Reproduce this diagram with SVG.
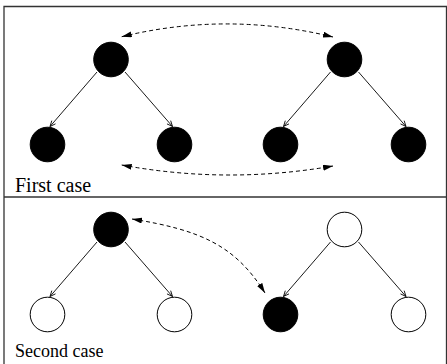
<svg xmlns="http://www.w3.org/2000/svg" width="447" height="364" viewBox="0 0 447 364">
<style>
.frame{fill:none;stroke:#333;stroke-width:1.3}
.blk{fill:#000;stroke:#000;stroke-width:1}
.wht{fill:#fff;stroke:#000;stroke-width:1}
.edge{fill:none;stroke:#000;stroke-width:0.9;marker-end:url(#open)}
.dash{fill:none;stroke:#000;stroke-width:1;stroke-dasharray:4 3}
.lbl{fill:#000;font-family:"Liberation Serif","Times New Roman",Times,"DejaVu Serif",serif}
</style>
<defs>
<marker id="open" viewBox="0 0 10 10" refX="9" refY="5" markerWidth="7" markerHeight="7" markerUnits="userSpaceOnUse" orient="auto">
<path d="M1,1.5 L9,5 L1,8.5" fill="none" stroke="#000" stroke-width="1.2"/>
</marker>
<marker id="fill" viewBox="0 0 10 6" refX="10" refY="3" markerWidth="10" markerHeight="6" markerUnits="userSpaceOnUse" orient="auto-start-reverse">
<path d="M0,0 L10,3 L0,6 Z" fill="#000"/>
</marker>
</defs>
<g id="frame">
<path class="frame" d="M4,370 L4,6.5 L446.5,6.5 L446.5,370"/>
<line class="frame" x1="4" y1="197" x2="446.5" y2="197"/>
</g>
<g id="connectors">
<path class="edge" d="M97,72 L50,126.5"/>
<path class="edge" d="M125,72 L172.5,126.5"/>
<path class="edge" d="M330.5,72 L283.5,126.5"/>
<path class="edge" d="M358.5,72 L406,126.5"/>
<path class="edge" d="M97,242 L50,296.5"/>
<path class="edge" d="M125,242 L172.5,296.5"/>
<path class="edge" d="M330.5,242 L283.5,296.5"/>
<path class="edge" d="M358.5,242 L406,296.5"/>
<path class="dash" marker-start="url(#fill)" marker-end="url(#fill)" d="M121.7,36.7 Q227,11 333,37"/>
<path class="dash" marker-start="url(#fill)" marker-end="url(#fill)" d="M121.7,165 Q227,184.5 333,166"/>
<path class="dash" marker-start="url(#fill)" marker-end="url(#fill)" d="M132,219 C200,230 235,245 265,293"/>
</g>
<g id="n1"><circle class="blk" cx="111" cy="59.5" r="17.3"/></g>
<g id="n2"><circle class="blk" cx="47.5" cy="144.5" r="17.3"/></g>
<g id="n3"><circle class="blk" cx="174.5" cy="144.5" r="17.3"/></g>
<g id="n4"><circle class="blk" cx="344.5" cy="59.5" r="17.3"/></g>
<g id="n5"><circle class="blk" cx="280.5" cy="144.5" r="17.3"/></g>
<g id="n6"><circle class="blk" cx="408.5" cy="144.5" r="17.3"/></g>
<g id="n7"><circle class="blk" cx="111" cy="229.5" r="17.3"/></g>
<g id="n8"><circle class="wht" cx="47.5" cy="314.5" r="17.3"/></g>
<g id="n9"><circle class="wht" cx="174.5" cy="314.5" r="17.3"/></g>
<g id="n10"><circle class="wht" cx="344.5" cy="229.5" r="17.3"/></g>
<g id="n11"><circle class="blk" cx="280.5" cy="314.5" r="17.3"/></g>
<g id="n12"><circle class="wht" cx="408.5" cy="314.5" r="17.3"/></g>
<g id="labels">
<text class="lbl" x="15" y="191.7" font-size="20">First case</text>
<text class="lbl" x="15" y="357.3" font-size="18">Second case</text>
</g>
</svg>
